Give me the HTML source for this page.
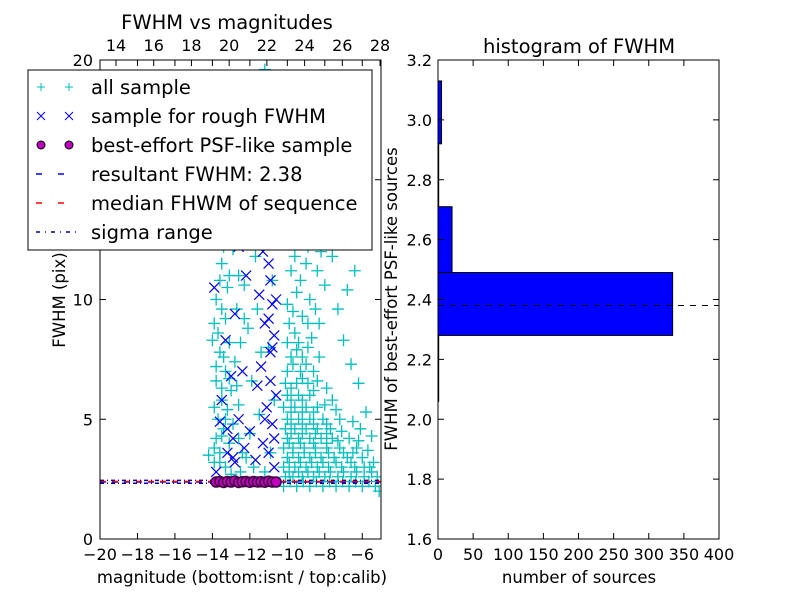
<!DOCTYPE html>
<html><head><meta charset="utf-8"><style>
body{margin:0;background:#fff}
svg{display:block;font-family:"DejaVu Sans","Liberation Sans",sans-serif}
</style></head><body>
<svg id="c" width="800" height="600" viewBox="0 0 800 600"></svg>
<script>
// ---- data ----
const cyanPts = [
[-10.2,2.2],[-9.5,2.2],[-8.8,2.2],[-8.1,2.2],[-7.4,2.2],[-6.7,2.2],[-6.0,2.2],[-5.3,2.2],
[-10.1,2.6],[-9.7,2.6],[-9.2,2.6],[-8.6,2.6],[-8.0,2.6],[-7.3,2.6],[-6.6,2.6],[-5.9,2.6],[-5.2,2.6],
[-10.2,3.0],[-9.6,3.0],[-9.0,3.0],[-8.4,3.0],[-7.8,3.0],[-7.1,3.0],[-6.4,3.0],[-5.6,3.0],
[-10.0,3.4],[-9.4,3.4],[-8.8,3.4],[-8.2,3.4],[-7.5,3.4],[-6.8,3.4],[-6.0,3.4],[-5.4,3.2],
[-10.2,3.8],[-9.7,3.8],[-9.1,3.8],[-8.5,3.8],[-7.9,3.8],[-7.2,3.8],[-6.3,3.8],
[-10.0,4.2],[-9.4,4.2],[-8.8,4.2],[-8.2,4.2],[-7.6,4.2],[-6.7,4.2],
[-10.1,4.6],[-9.6,4.6],[-9.0,4.6],[-8.4,4.6],[-7.7,4.6],[-6.5,4.9],
[-10.0,5.0],[-9.4,5.0],[-8.8,5.0],[-8.1,5.0],[-7.2,5.0],
[-10.2,5.5],[-9.6,5.5],[-9.0,5.5],[-8.4,5.5],[-7.6,5.8],
[-10.0,6.0],[-9.4,6.0],[-8.8,6.0],[-7.9,6.3],
[-10.1,6.5],[-9.5,6.5],[-8.9,6.5],[-10.0,7.0],[-9.3,7.0],[-8.6,7.0],
[-9.8,7.6],[-9.2,7.6],[-10.0,8.2],[-9.4,8.2],[-8.7,8.4],[-9.9,9.0],[-9.2,9.3],[-8.3,9.0],
[-10.0,9.8],[-9.5,10.3],[-8.8,10.0],[-8.0,10.6],[-9.8,11.2],[-9.0,11.5],[-7.6,11.8],
[-9.6,12.4],[-8.7,12.8],[-7.9,13.2],[-10.1,13.5],[-9.3,14.0],[-8.4,14.5],[-7.2,14.2],
[-9.7,15.0],[-8.9,15.6],[-7.8,16.0],[-9.2,16.8],[-8.2,17.3],[-6.8,10.4],[-7.0,8.3],[-6.2,6.5],
[-6.6,7.3],[-5.8,5.3],[-5.5,4.3],[-6.1,4.6],[-7.0,12.5],[-6.5,15.5],[-8.6,18.8],[-9.5,18.3],
[-9.85,2.4],[-9.15,2.4],[-8.45,2.4],[-7.75,2.4],[-7.05,2.4],[-6.35,2.4],[-5.65,2.4],[-5.1,2.0],
[-9.9,2.8],[-9.4,2.8],[-8.9,2.8],[-8.3,2.8],[-7.7,2.8],[-7.0,2.8],[-6.3,2.8],[-5.5,2.8],
[-9.9,3.2],[-9.3,3.2],[-8.7,3.2],[-8.1,3.2],[-7.4,3.2],[-6.6,3.2],[-5.9,3.0],
[-9.7,3.6],[-9.1,3.6],[-8.5,3.6],[-7.8,3.6],[-7.0,3.6],[-6.5,3.6],[-5.7,3.7],
[-9.9,4.0],[-9.3,4.0],[-8.6,4.0],[-7.9,4.0],[-7.3,4.1],[-6.2,4.1],
[-9.8,4.4],[-9.2,4.4],[-8.5,4.4],[-7.9,4.4],[-7.1,4.5],
[-9.8,4.8],[-9.2,4.8],[-8.6,4.8],[-7.9,4.8],[-7.4,5.4],
[-9.8,5.3],[-9.2,5.3],[-8.6,5.3],[-8.0,5.6],[-9.8,5.8],[-9.2,5.8],[-8.6,6.2],
[-9.8,6.3],[-9.2,6.7],[-8.4,6.6],[-9.7,7.3],[-9.0,7.3],[-8.3,7.6],[-9.5,7.9],[-8.9,8.0],
[-9.6,8.6],[-8.9,9.0],[-9.7,9.5],[-8.5,9.6],[-9.3,10.8],[-8.4,11.2],[-9.6,11.8],[-8.9,12.2],
[-9.9,12.8],[-8.2,12.0],[-9.0,13.5],[-8.0,14.0],[-9.6,14.5],[-8.6,15.2],[-9.4,15.8],[-7.5,15.0],
[-9.9,16.2],[-8.8,16.6],[-9.6,17.6],[-8.0,18.2],[-7.4,17.0],[-6.8,13.4],[-6.4,11.2],[-7.3,9.6],
[-13.9,3.2],[-13.6,3.6],[-13.3,3.0],[-13.8,4.2],[-13.4,4.6],[-13.1,4.0],[-13.7,5.0],[-13.2,5.4],
[-12.9,4.8],[-13.5,5.8],[-13.0,6.2],[-12.6,5.6],[-13.8,6.6],[-13.3,7.0],[-12.8,7.4],[-13.6,7.8],
[-13.1,8.2],[-13.7,8.6],[-13.3,9.2],[-12.7,9.6],[-13.8,10.0],[-13.2,10.5],[-12.6,11.0],[-13.5,11.5],
[-12.9,12.1],[-13.7,12.8],[-13.0,13.2],[-12.4,13.8],[-13.3,14.4],[-12.6,15.0],[-13.8,15.6],[-12.9,16.4],
[-12.2,17.2],[-13.4,17.8],[-11.8,18.5],[-12.5,19.2],[-11.2,19.6],[-10.8,16.5],[-11.5,15.2],
[-12.2,3.4],[-11.8,3.0],[-12.0,4.4],[-11.5,5.2],[-11.9,6.6],[-11.4,7.8],[-12.1,8.8],[-11.6,9.6],
[-12.3,10.6],[-11.7,11.8],[-12.0,12.6],[-11.3,13.4],[-10.9,3.6],[-10.7,5.8],[-11.0,8.0],[-10.8,10.8],
[-12.5,2.8],[-13.0,2.7],[-11.2,2.8],[-14.2,3.5],[-14.0,8.3],[-13.5,13.5],[-11.3,17.5],
[-13.9,3.8],[-13.5,4.3],[-13.6,3.2],[-13.3,5.0],[-13.9,5.5],[-13.5,6.3],[-13.1,6.7],[-13.8,7.2],
[-13.4,7.6],[-13.9,9.0],[-13.5,9.6],[-13.6,10.8],[-13.1,11.0],[-13.4,12.2],[-12.6,4.2],[-12.4,3.6],
[-12.7,6.4],[-12.5,8.2],[-12.3,9.2]
];
const blueMag = [-13.8,-13.6,-13.2,-12.9,-13.5,-13.0,-12.6,-12.8,-12.3,-12.0,-11.7,-11.3,-11.0,-10.7,-10.8,-11.1,-10.6,-11.4,-10.9,-10.7,-11.2,-10.8,-11.5,-12.2,-12.6,-11.9,-11.0,-10.7,-12.4,-13.3,-11.6,-10.9,-11.3,-12.8,-13.9,-10.8,-11.1,-12.1,-12.5,-13.1,-10.7,-10.9,-10.8,-11.0,-10.6,-11.2,-12.9,-13.2];
const blueFwhm = [2.8,4.9,3.6,4.2,5.8,6.8,5.0,3.2,3.8,4.5,3.3,4.0,3.6,3.0,4.8,5.5,6.0,7.2,7.8,8.5,9.0,9.8,10.2,11.0,12.2,12.8,11.5,13.0,7.0,8.3,6.4,10.8,12.0,9.4,10.5,14.0,14.6,15.5,16.5,13.6,4.2,6.6,8.0,9.2,10.0,5.0,3.4,4.6];
const magMag = [-13.8,-13.6,-13.4,-13.2,-13.0,-12.8,-12.6,-12.4,-12.2,-12.0,-11.8,-11.6,-11.4,-11.2,-11.0,-10.8,-10.6];
const magFwhm = [2.38,2.40,2.36,2.40,2.38,2.42,2.36,2.39,2.40,2.37,2.40,2.38,2.39,2.37,2.41,2.38,2.38];
const resultFwhm = 2.38, medianFwhm = 2.40, sigmaLo = 2.33, sigmaHi = 2.45;
const histEdges = [2.06,2.28,2.49,2.71,2.92,3.13];
const histCounts = [1,334,20,1,5];
const xTicksL = [-20,-18,-16,-14,-12,-10,-8,-6];
const topTicks = [14,16,18,20,22,24,26,28];
const yTicksL = [0,5,10,15,20];
const yTicksR = [1.6,1.8,2.0,2.2,2.4,2.6,2.8,3.0,3.2];
const xTicksR = [0,50,100,150,200,250,300,350,400];

const NS="http://www.w3.org/2000/svg", svg=document.getElementById('c');
function el(t,a,p){const e=document.createElementNS(NS,t);for(const k in a)e.setAttribute(k,a[k]);(p||svg).appendChild(e);return e;}
const L={x0:100,x1:381,y0:60,y1:539};
const xL=v=>L.x0+(v+20)/15*(L.x1-L.x0);
const yL=v=>L.y1-v/20*(L.y1-L.y0);
const xT=v=>116+(v-14)*18.86;
const R={x0:438,x1:719,y0:60,y1:539};
const xR=v=>R.x0+v/400*(R.x1-R.x0);
const yR=v=>R.y1-(v-1.6)/1.6*(R.y1-R.y0);

const defs=el('defs',{});const cp=el('clipPath',{id:'clipL'},defs);el('rect',{x:L.x0,y:L.y0,width:L.x1-L.x0,height:L.y1-L.y0},cp);

const gc=el('g',{'clip-path':'url(#clipL)'});


cyanPts.forEach(p=>{const x=xL(p[0]),y=yL(p[1]);
 const m=el('path',{d:`M${x-6} ${y}H${x+6}M${x} ${y-6}V${y+6}`,stroke:'#00bfbf','stroke-width':1.3},gc);
 
 });
blueMag.forEach((mg,i)=>{const x=xL(mg),y=yL(blueFwhm[i]);
 const m=el('path',{d:`M${x-5} ${y-5}L${x+5} ${y+5}M${x-5} ${y+5}L${x+5} ${y-5}`,stroke:'#0000ff','stroke-width':1.2},gc);
 
 });
[[resultFwhm,'#0000ff','6,6','resultant-fwhm-line'],[medianFwhm,'#ff0000','6,6','median-fwhm-line'],[sigmaLo,'#0000aa','4,3,1,3','sigma-low-line'],[sigmaHi,'#0000aa','4,3,1,3','sigma-high-line']].forEach(d=>{
 const m=el('line',{x1:L.x0,x2:L.x1,y1:yL(d[0]),y2:yL(d[0]),stroke:d[1],'stroke-width':1.5,'stroke-dasharray':d[2]},gc);
 
 });
magMag.forEach((mg,i)=>{const m=el('circle',{cx:xL(mg),cy:yL(magFwhm[i]),r:5,fill:'#bf00bf',stroke:'#400040','stroke-width':1.5},gc);
 
 });
const fr=el('rect',{x:L.x0,y:L.y0,width:L.x1-L.x0,height:L.y1-L.y0,fill:'none',stroke:'#000'});

function txt(x,y,s,a,size,extra){const t=el('text',Object.assign({x:x,y:y,'text-anchor':a||'middle','font-size':size||16},extra||{}));t.textContent=s;return t;}
xTicksL.forEach(v=>{const x=xL(v);el('line',{x1:x,x2:x,y1:L.y1,y2:L.y1-6,stroke:'#000'});el('line',{x1:x,x2:x,y1:L.y0,y2:L.y0+6,stroke:'#000'});
 const t=txt(x,560,String(v).replace('-','\u2212'));});
topTicks.forEach(v=>{const x=xT(v);el('line',{x1:x,x2:x,y1:L.y0,y2:L.y0+6,stroke:'#000'});
 const t=txt(x,51,String(v));});
yTicksL.forEach(v=>{const y=yL(v);el('line',{x1:L.x0,x2:L.x0+6,y1:y,y2:y,stroke:'#000'});el('line',{x1:L.x1,x2:L.x1-6,y1:y,y2:y,stroke:'#000'});
 const t=txt(93,y+6,String(v),'end');});
let t=txt(242,583,'magnitude (bottom:isnt / top:calib)','middle',16.5);
t=txt(65,300,'FWHM (pix)','middle',16.5,{transform:'rotate(-90 65 300)'});
t=txt(227,29,'FWHM vs magnitudes','middle',19.5);
// legend
const lg=el('g',{});
el('rect',{x:28,y:70,width:344,height:180,fill:'#fff',stroke:'#000'},lg);
const labels=['all sample','sample for rough FWHM','best-effort PSF-like sample','resultant FWHM: 2.38','median FHWM of sequence','sigma range'];
labels.forEach((s,i)=>{const y=87+i*29;
 const g=el('g',{},lg);
 if(i==0)[41,69].forEach(x=>el('path',{d:`M${x-4} ${y}H${x+4}M${x} ${y-4}V${y+4}`,stroke:'#00bfbf'},g));
 if(i==1)[41,69].forEach(x=>el('path',{d:`M${x-4} ${y-4}L${x+4} ${y+4}M${x-4} ${y+4}L${x+4} ${y-4}`,stroke:'#00f'},g));
 if(i==2)[41,69].forEach(x=>el('circle',{cx:x,cy:y,r:4,fill:'#bf00bf',stroke:'#000'},g));
 if(i==3)el('line',{x1:36,x2:76,y1:y,y2:y,stroke:'#00f','stroke-width':1.5,'stroke-dasharray':'6,16'},g);
 if(i==4)el('line',{x1:36,x2:76,y1:y,y2:y,stroke:'#f00','stroke-width':1.5,'stroke-dasharray':'6,16'},g);
 if(i==5)el('line',{x1:36,x2:76,y1:y,y2:y,stroke:'#00a','stroke-width':1.5,'stroke-dasharray':'4,5,1,5'},g);
 const tt=el('text',{x:91,y:y+7,'font-size':19.5},g);tt.textContent=s;});
// right histogram
histCounts.forEach((c,i)=>{const y1=yR(histEdges[i+1]),y2=yR(histEdges[i]);
 const b=el('rect',{x:R.x0,y:y1,width:xR(c)-R.x0,height:y2-y1,fill:'#0000ff',stroke:'#000'});
 });
const dl=el('line',{x1:R.x0,x2:R.x1,y1:yR(resultFwhm),y2:yR(resultFwhm),stroke:'#000','stroke-dasharray':'6,6'});

const fr2=el('rect',{x:R.x0,y:R.y0,width:R.x1-R.x0,height:R.y1-R.y0,fill:'none',stroke:'#000'});

xTicksR.forEach(v=>{const x=xR(v);el('line',{x1:x,x2:x,y1:R.y1,y2:R.y1-6,stroke:'#000'});el('line',{x1:x,x2:x,y1:R.y0,y2:R.y0+6,stroke:'#000'});
 const t=txt(x,560,String(v));});
yTicksR.forEach(v=>{const y=yR(v);el('line',{x1:R.x0,x2:R.x0+6,y1:y,y2:y,stroke:'#000'});el('line',{x1:R.x1,x2:R.x1-6,y1:y,y2:y,stroke:'#000'});
 const t=txt(432,y+6,v.toFixed(1),'end');});
t=txt(579,583,'number of sources','middle',16.5);
t=txt(397,299,'FWHM of best-effort PSF-like sources','middle',16.5,{transform:'rotate(-90 397 299)'});
t=txt(579,53,'histogram of FWHM','middle',19.5);
</script>
</body></html>
